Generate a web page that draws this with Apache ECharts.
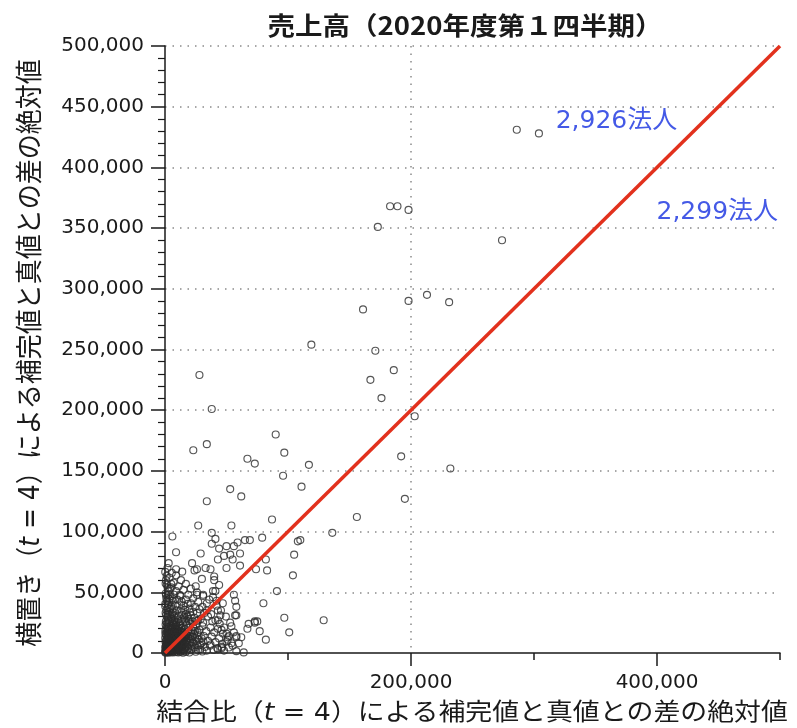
<!DOCTYPE html>
<html>
<head>
<meta charset="utf-8">
<script src="https://cdn.jsdelivr.net/npm/echarts@6/dist/echarts.min.js"></script>
<style>
  html, body { margin: 0; padding: 0; background: #ffffff; }
  #chart { width: 797px; height: 728px; }
</style>
</head>
<body>
<div id="chart"></div>
<script>
// ---- Text ----
const chartTitle = '売上高（2020年度第１四半期）';
const xName = ['結合比（', 't', ' = 4）による補完値と真値との差の絶対値'];
const yName = ['横置き（', 't', ' = 4）による補完値と真値との差の絶対値'];

// ---- Axes ----
const axisMin = 0;
const axisMax = 500000;
const yInterval = 50000;
const xMajorTicks = [0, 200000, 400000];
const xMinorTicks = [100000, 300000, 500000];

// ---- Firms: [結合比 error, 横置き error], in thousands ----
const UNIT = 1000;
const firmsCore = [
  [0.5,0.3],[1,2],[2,0.8],[3,3],[1.5,4.5],[4,1.2],[5,4],[2.5,6],[6,2.5],[7,6.5],
  [0.8,7.5],[3.5,8.5],[8,0.6],[9,3.5],[5.5,9],[10,7.5],[1.2,10.5],[7.5,11],[11,1.8],[12,5],
  [4.5,12.5],[9.5,12],[13,9.5],[2,14],[14,3],[6.5,14.5],[11.5,13.5],[15,6.5],[0.3,16],[15.5,12],
  [3.8,1.9],[6.2,0.4],[8.7,8.8],[2.9,11.7],[12.6,0.9],[0.6,3.9],[4.8,6.7],[10.4,10.2],[7.1,3.3],[13.8,14.8],
  [1.7,8.9],[5.9,11.6],[9.2,5.6],[11.9,7.8],[3.2,15.3],[14.6,0.2],[0.2,12.4],[8.3,14.2],[16.3,4.1],[4.1,3.6],
  [6.8,8.1],[2.2,2.7],[10.9,4.3],[12.3,11.1],[7.7,15.8],[15.9,9.1],[0.9,5.8],[5.2,1.7],[9.8,1.1],[3.4,13.2],
  [13.3,6.1],[1.3,0.9],[16.8,15.2],[8.9,10.6],[6.3,5.2],[11.2,15.9],[14.2,10.7],[2.6,4.2],[4.4,9.8],[0.4,1.4]
];
const firmsDense = [
  [0.1,0.9],[0.7,2.6],[1.9,1.6],[2.8,0.2],[3.6,2.2],[4.6,0.6],[5.8,3.1],[6.9,1.4],[7.8,2.2],[8.6,4.7],
  [9.9,2.6],[10.8,0.5],[11.7,3.4],[12.9,2.1],[13.7,4.6],[14.9,1.5],[15.8,2.9],[16.9,0.8],[17.8,5.3],[18.9,3.8],
  [19.8,0.4],[20.9,2.3],[21.7,6.1],[0.2,4.9],[1.1,6.6],[2.3,8.1],[3.1,5.3],[4.3,7.6],[5.1,5.9],[6.1,7.3],
  [7.3,9.6],[8.1,7.2],[9.3,9.2],[10.1,6.1],[11.1,9.1],[12.1,8.3],[13.1,11.9],[14.1,8.4],[15.2,10.2],[16.1,7.7],
  [17.1,9.4],[18.3,8.6],[19.1,12.3],[20.1,10.1],[21.1,11.6],[22.3,7.9],[0.4,9.3],[1.4,11.8],[2.4,13.1],[3.7,10.4],
  [4.9,14.3],[5.3,10.7],[6.4,12.8],[7.2,13.4],[8.4,12.9],[9.4,14.1],[10.6,13.1],[11.4,11.9],[12.4,14.6],[13.6,13.4],
  [14.4,12.6],[15.4,14.1],[16.6,13.6],[17.6,15.1],[18.4,13.9],[0.8,14.9],[1.6,16.9],[2.7,15.9],[3.9,17.1],[4.7,16.2],
  [5.7,17.3],[6.7,16.4],[7.9,17.7],[8.8,16.3],[9.9,17.4],[10.8,16.6],[11.8,18.2],[12.9,16.7],[14.1,17.4],[15.1,16.4],
  [0.3,18.5],[1.3,21.8],[2.1,19.8],[3.3,21.4],[4.4,22.8],[5.1,19.6],[6.3,20.5],[7.4,23.1],[8.2,19.9],[9.1,22.7],
  [10.3,21.2],[11.2,20.2],[12.2,23.6],[13.4,20.6],[0.5,23.4],[1.5,24.9],[2.6,27.2],[3.8,26.1],[4.9,28.3],[6.6,24.4],
  [7.6,27.1],[8.9,24.6],[10.7,27.6],[0.9,31.2],[2.3,32.1],[3.9,31.6],[5.7,32.3],[7.4,31.1],[1.2,35.4],[4.1,36.7],
  [6.1,36.1],[0.2,38.6],[2.5,39.8],[1.6,43.1],[3.6,44.4],[0.9,47.6],[2.2,53.4],[0.5,57.2],[1.4,63.5],[0.2,66.8],
  [22.6,13.3],[23.7,15.8],[24.3,4.6],[25.6,9.7],[26.8,2.4],[27.3,14.6],[28.6,6.6],[29.8,12.1],[30.4,1.2],[31.2,9.4],
  [21.2,16.1],[22.8,21.9],[24.6,18.1],[19.4,26.3],[16.6,25.6],[18.1,30.1],[15.2,29.3],[13.6,33.6],[20.3,33.6],[25.9,26.4]
];
const firmsMid = [
  [18,2],[19.5,7],[17.2,11],[20.5,14],[18.6,17.5],[22,3.5],[23,9],[21.5,18.5],[24.5,13],[25,1],
  [26,6.5],[19,21],[16,19.5],[13,18],[10,19],[7,18.5],[4,19.5],[1,20],[2.5,17.5],[5.5,22],
  [8.5,21.5],[11.5,22.5],[14.5,21],[17.5,23.5],[20.5,24],[23.5,20],[26.5,17],[27.5,11],[28.5,3],[29.5,8],
  [22.5,26],[25.5,23.5],[28,19],[3,24.5],[0.7,26],[6,26.5],[9.5,25.5],[12.8,26.2],[15.8,27.5],[19.2,28],
  [1.8,29.5],[4.6,30],[8,29],[11,30.5],[14,31.5],[17,32],[21,31],[24,29],[27,27],[30.5,22],
  [31.5,14],[32.5,5],[0.5,33],[3.5,34],[6.8,33.5],[9.7,35],[13,36],[16.5,35.5],[20,36.5],[2,37],
  [5,38.5],[8.5,39],[11.7,40],[0.3,40.5],[3.2,42],[6.4,43],[1.1,45],[4.2,46.5],[0.6,49],[2.8,51],
  [7.5,48],[10,44],[13.5,42.5],[15,39],[18.5,40.5],[23,34],[26,33],[29,28],[31,25],[33.5,18],
  [35,10],[34,2],[36.5,6],[38,13.5],[37,21],[39.5,2.5],[41,9],[40,17],[42.5,4],[44,12],
  [46.5,7.5],[48,2],[50,9.5],[52,4.5],[47,16],[43,20],[38.5,26],[35,30],[32,33],[28,36],
  [24.5,38],[21,41],[17,44],[12.5,47],[9,51],[5,54],[1.5,56],[0.8,60],[3.7,62],[7,58],
  [11,55],[15,52],[19,48],[23,45],[27,42],[30.5,38],[34,35],[37.5,32],[41,27],[44.5,24],
  [48,21],[52,14],[55,6],[58,1.5],[60,8],[56,17],[53,25],[49.5,30],[45.5,35],[42,39],
  [36,44],[31,47],[26,50],[21,53],[17,57],[13,60],[9,64],[5.5,66],[2,70]
];
const firmsOuter = [
  [286,431],[304,428],[183,368],[189,368],[198,365],[173,351],[274,340],[198,290],[213,295],[231,289],
  [161,283],[119,254],[171,249],[186,233],[167,225],[176,210],[203,195],[192,162],[117,155],[232,152],
  [111,137],[195,127],[156,112],[136,99],[110,93],[129,27],[28,229],[38,201],[23,167],[34,172],
  [90,180],[97,165],[67,160],[73,156],[96,146],[53,135],[62,129],[34,125],[27,105],[54,105],
  [87,110],[6,96],[38,99],[38,90],[41,94],[44,86],[50,88],[56,88],[59,91],[65,93],
  [69,93],[79,95],[108,92],[105,81],[104,64],[91,51],[83,68],[82,77],[74,69],[80,41],
  [97,29],[101,17],[82,11],[73,26],[75,26],[67,20],[77,18],[58,14],[64,0.5],[57,31],
  [57,43],[56,48],[47,41],[61,82],[55,77],[53,81],[48,80],[43,77],[61,72],[50,70],
  [29,82],[9,83],[3,74],[22,74],[33,70],[37,69],[40,63],[44,56],[39,51],[34,41],
  [43,27],[46,19],[51,13],[37,7],[46,4],[9,69],[14,67],[24,68],[26,69],[5,57],
  [4,53],[3,48],[6,45],[12,48],[25,55],[26,48],[31,48],[30,61],[40,60],[41,51],
  [39,46],[42,43],[43,35],[45,31],[58,38],[58,31],[54,22],[50,16],[51,11],[54,8],
  [58,13],[46,5],[43,3],[68,24],[73,25],[62,13]
];

// ---- Corporation counts either side of the diagonal ----
const countAbove = '2,926法人';
const countBelow = '2,299法人';
const countAboveAt = [367000, 438000];
const countBelowAt = [449000, 363000];

const firms = firmsCore.concat(firmsDense, firmsMid, firmsOuter)
  .map(p => [p[0] * UNIT, p[1] * UNIT]);

const latinCjk = '"DejaVu Sans", "Noto Sans CJK JP", sans-serif';
const fmt = v => Number(v).toLocaleString('en-US');
const ink = '#1a1a1a';

const grid = { left: 165, right: 17, top: 46, bottom: 75 };

const chart = echarts.init(document.getElementById('chart'), null, { renderer: 'canvas' });

function richName(parts, size) {
  return {
    text: '{a|' + parts[0] + '}{i|' + parts[1] + '}{a|' + parts[2] + '}',
    rich: {
      a: { fontSize: size, fontFamily: latinCjk, fill: ink },
      i: { fontSize: size, fontFamily: latinCjk, fontStyle: 'italic', fill: ink }
    }
  };
}

chart.setOption({
  backgroundColor: '#ffffff',
  animation: false,
  grid: [
    Object.assign({}, grid),
    Object.assign({}, grid)
  ],
  xAxis: [
    {
      type: 'value', gridIndex: 0, min: axisMin, max: axisMax, interval: 100000,
      axisLine: { show: true, lineStyle: { color: ink, width: 1.5 } },
      axisTick: { show: true, length: 13, customValues: xMajorTicks, lineStyle: { color: ink, width: 1.5 } },
      axisLabel: { customValues: xMajorTicks, formatter: fmt, fontSize: 20, fontFamily: '"DejaVu Sans"', color: ink, margin: 20 },
      splitLine: { show: true, showMinLine: false, showMaxLine: false,
        lineStyle: { color: '#8a8a8a', width: 1.5, type: [1.5, 6] } }
    },
    {
      type: 'value', gridIndex: 1, min: axisMin, max: axisMax, interval: 100000,
      axisLine: { show: false },
      axisTick: { show: true, length: 7, customValues: xMinorTicks, lineStyle: { color: ink, width: 1.5 } },
      axisLabel: { show: false },
      splitLine: { show: false }
    }
  ],
  yAxis: [
    {
      type: 'value', gridIndex: 0, min: axisMin, max: axisMax, interval: yInterval,
      axisLine: { show: true, lineStyle: { color: ink, width: 1.5 } },
      axisTick: { show: true, length: 14, lineStyle: { color: ink, width: 1.5 } },
      minorTick: { show: true, splitNumber: 5, length: 7, lineStyle: { color: ink, width: 1.2 } },
      axisLabel: { formatter: fmt, fontSize: 20, fontFamily: '"DejaVu Sans"', color: ink, margin: 21 },
      splitLine: { show: true, showMinLine: false, showMaxLine: true,
        lineStyle: { color: '#8a8a8a', width: 1.5, type: [1.5, 6] } }
    },
    {
      type: 'value', gridIndex: 1, min: axisMin, max: axisMax, show: false
    }
  ],
  series: [
    {
      type: 'scatter', xAxisIndex: 0, yAxisIndex: 0, z: 2,
      symbol: 'circle', symbolSize: 7,
      itemStyle: { color: 'rgba(0,0,0,0)', borderColor: '#2a2a2a', borderWidth: 1.15 },
      emphasis: { disabled: true },
      data: firms
    },
    {
      type: 'line', xAxisIndex: 0, yAxisIndex: 0, z: 4,
      symbol: 'none',
      lineStyle: { color: '#e2311d', width: 3.5 },
      data: [[axisMin, axisMin], [axisMax, axisMax]]
    },
    {
      type: 'scatter', xAxisIndex: 0, yAxisIndex: 0, z: 5,
      symbolSize: 0,
      label: { show: true, position: 'inside', formatter: '{b}', fontSize: 25,
        fontFamily: latinCjk, color: '#1530e0' },
      data: [
        { name: countAbove, value: countAboveAt },
        { name: countBelow, value: countBelowAt }
      ]
    }
  ],
  graphic: [
    {
      type: 'text', x: 465, y: 25, scaleX: 1.1,
      style: { text: chartTitle, font: 'bold 25px "Noto Sans CJK JP"', fill: ink,
        textAlign: 'center', textVerticalAlign: 'middle' }
    },
    {
      type: 'text', x: 472, y: 714, scaleX: 1.12,
      style: Object.assign(richName(xName, 24), { textAlign: 'center', textVerticalAlign: 'middle' })
    },
    {
      type: 'text', x: 32, y: 353, rotation: Math.PI / 2, scaleY: 1.1,
      style: Object.assign(richName(yName, 25), { textAlign: 'center', textVerticalAlign: 'middle' })
    }
  ]
});
</script>
</body>
</html>
